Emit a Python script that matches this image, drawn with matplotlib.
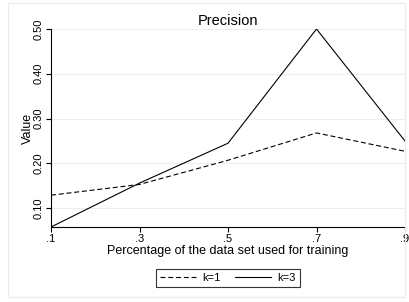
import matplotlib
matplotlib.use("Agg")
import matplotlib.pyplot as plt
from matplotlib.patches import Rectangle

plt.rcParams['font.family'] = ['Liberation Sans', 'DejaVu Sans']

x = [0.1, 0.3, 0.5, 0.7, 0.9]
k1 = [0.129, 0.153, 0.207, 0.268, 0.227]
k3 = [0.058, 0.156, 0.245, 0.500, 0.250]
xticks = [0.1, 0.3, 0.5, 0.7, 0.9]
xticklabels = ['.1', '.3', '.5', '.7', '.9']
yticks = [0.10, 0.20, 0.30, 0.40, 0.50]
yticklabels = ['0.10', '0.20', '0.30', '0.40', '0.50']

fig = plt.figure(figsize=(4.09, 3.02), dpi=100)
fig.patch.set_facecolor('white')
fig.add_artist(Rectangle((8/409, 5/302), 397/409, 294/302, transform=fig.transFigure,
                         fill=False, edgecolor='#ebebeb', linewidth=0.8))
ax = fig.add_axes([51/409, 75/302, 354/409, 198/302])
ax.plot(x, k1, color='black', linestyle=(0, (4.5, 2.5)), linewidth=0.8, label='k=1')
ax.plot(x, k3, color='black', linestyle='-', linewidth=0.8, label='k=3')
ax.set_xlim(0.1, 0.9)
ax.set_ylim(0.058, 0.50)
ax.set_xticks(xticks)
ax.set_xticklabels(xticklabels)
ax.set_yticks(yticks)
ax.set_yticklabels(yticklabels, rotation=90, va='center')
ax.grid(axis='y', color='#eeeeee', linewidth=0.8)
ax.set_axisbelow(True)
for s in ['top', 'right']:
    ax.spines[s].set_visible(False)
for s in ['left', 'bottom']:
    ax.spines[s].set_linewidth(0.8)
ax.tick_params(labelsize=8, length=3.5, width=0.8, pad=1.5)
ax.set_xlabel('Percentage of the data set used for training', fontsize=9, labelpad=1)
ax.set_ylabel('Value', fontsize=9, labelpad=0)
ax.set_title('Precision', fontsize=10.5, pad=3)
leg = ax.legend(loc='upper center', bbox_to_anchor=(0.5, -0.182), ncol=2, fontsize=8,
                frameon=True, fancybox=False, edgecolor='black', handlelength=3.2,
                columnspacing=1.25, borderpad=0.4, handletextpad=0.6)
leg.get_frame().set_linewidth(0.8)
fig.savefig('out.png', dpi=100)
